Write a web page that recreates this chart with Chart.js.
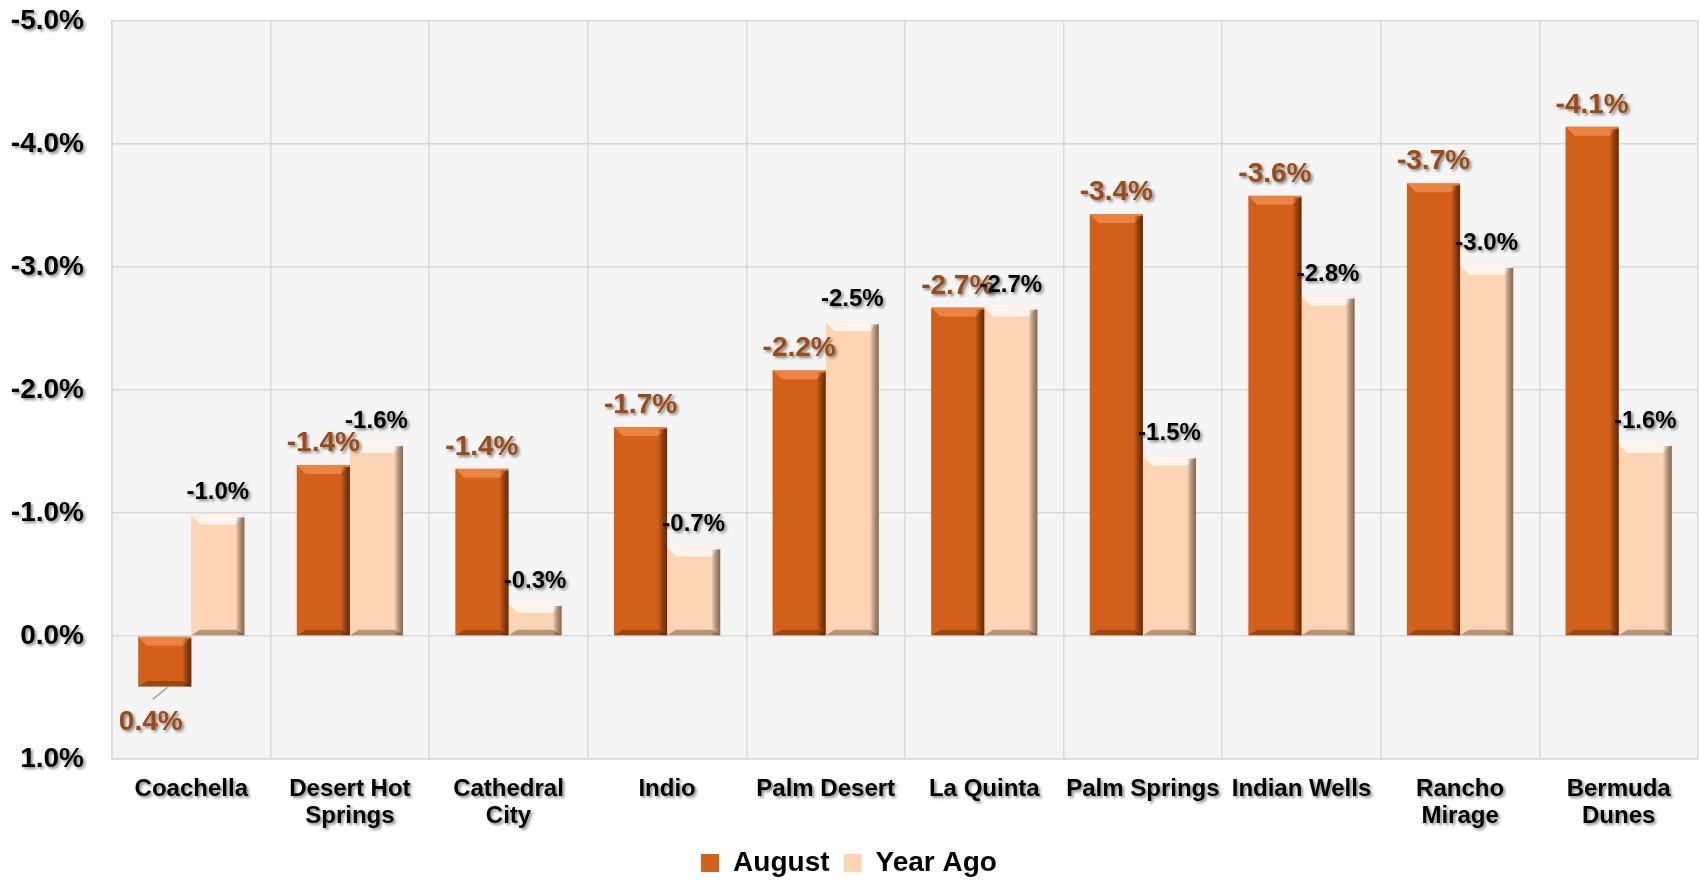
<!DOCTYPE html>
<html>
<head>
<meta charset="utf-8">
<script src="https://cdn.jsdelivr.net/npm/chart.js@4"></script>
<style>
  html, body { margin: 0; padding: 0; background: #fff; }
  #wrap { width: 1701px; height: 882px; }
</style>
</head>
<body>
<div id="wrap"><canvas id="rentChart"></canvas></div>
<script>
const cities = [['Coachella'], ['Desert Hot', 'Springs'], ['Cathedral', 'City'], ['Indio'], ['Palm Desert'],
                ['La Quinta'], ['Palm Springs'], ['Indian Wells'], ['Rancho', 'Mirage'], ['Bermuda', 'Dunes']];
const august = [0.41, -1.39, -1.36, -1.70, -2.16, -2.67, -3.43, -3.58, -3.68, -4.14];
const yearAgo = [-0.98, -1.56, -0.26, -0.72, -2.55, -2.67, -1.46, -2.76, -3.01, -1.56];
const yTicks = { min: -5, max: 1, step: 1 };

const FONT = "'Liberation Sans', Arial, sans-serif";

// light gray plot background
const plotBg = {
  id: 'plotBg',
  beforeDraw(chart) {
    const { ctx, chartArea: a } = chart;
    ctx.save();
    ctx.fillStyle = '#f5f5f5';
    ctx.fillRect(a.left, a.top, a.right - a.left, a.bottom - a.top);
    ctx.restore();
  }
};

// bevelled look on top of the flat bars
const bevel = {
  id: 'bevel',
  afterDatasetsDraw(chart) {
    const ctx = chart.ctx;
    chart.data.datasets.forEach((ds, i) => {
      const meta = chart.getDatasetMeta(i);
      const light = i === 0 ? 'rgba(255,160,100,0.55)' : 'rgba(255,255,255,0.75)';
      const dark = i === 0 ? 'rgba(70,25,0,0.75)' : 'rgba(90,60,40,0.7)';
      meta.data.forEach((bar) => {
        const p = bar.getProps(['x', 'y', 'base', 'width'], true);
        const left = p.x - p.width / 2, right = p.x + p.width / 2;
        const top = Math.min(p.y, p.base), bottom = Math.max(p.y, p.base);
        const h = bottom - top;
        const d = Math.min(9, h / 3);
        ctx.save();
        // top bevel
        ctx.beginPath();
        ctx.moveTo(left, top); ctx.lineTo(right, top);
        ctx.lineTo(right - d, top + d); ctx.lineTo(left + d, top + d);
        ctx.closePath();
        ctx.fillStyle = light;
        ctx.fill();
        // right shade
        const g = ctx.createLinearGradient(right - 9, 0, right, 0);
        g.addColorStop(0, 'rgba(0,0,0,0)');
        g.addColorStop(1, dark);
        ctx.fillStyle = g;
        ctx.fillRect(right - 9, top + 2, 9, h - 2);
        // bottom shade
        ctx.beginPath();
        ctx.moveTo(left, bottom); ctx.lineTo(right, bottom);
        ctx.lineTo(right - d, bottom - d * 0.6); ctx.lineTo(left + d, bottom - d * 0.6);
        ctx.closePath();
        ctx.fillStyle = 'rgba(60,30,10,0.35)';
        ctx.fill();
        ctx.restore();
      });
    });
  }
};

// value labels, then a text shadow for the tick labels drawn afterwards
const valueLabels = {
  id: 'valueLabels',
  afterDatasetsDraw(chart) {
    const ctx = chart.ctx;
    ctx.save();
    ctx.shadowColor = 'rgba(0,0,0,0.45)';
    ctx.shadowOffsetX = 2;
    ctx.shadowOffsetY = 2;
    ctx.shadowBlur = 3;
    ctx.textAlign = 'center';
    ctx.textBaseline = 'alphabetic';
    chart.data.datasets.forEach((ds, i) => {
      const meta = chart.getDatasetMeta(i);
      ctx.font = i === 0 ? `bold 28px ${FONT}` : `bold 24px ${FONT}`;
      ctx.fillStyle = i === 0 ? '#9e4a17' : '#000';
      meta.data.forEach((bar, j) => {
        const v = ds.data[j];
        const txt = v.toFixed(1) + '%';
        if (v < 0) {
          ctx.fillText(txt, bar.x, bar.y - (i === 0 ? 14 : 16));
        } else {
          ctx.save();
          ctx.shadowColor = 'transparent';
          ctx.strokeStyle = '#a6a6a6';
          ctx.lineWidth = 1.5;
          ctx.beginPath();
          ctx.moveTo(bar.x + 4, bar.y);
          ctx.lineTo(bar.x - 12, bar.y + 13);
          ctx.stroke();
          ctx.restore();
          ctx.fillText(txt, bar.x - 14, bar.y + 44);
        }
      });
    });
    ctx.restore();
    ctx.save();
    ctx.shadowColor = 'rgba(0,0,0,0.45)';
    ctx.shadowOffsetX = 2;
    ctx.shadowOffsetY = 2;
    ctx.shadowBlur = 3;
  },
  afterDraw(chart) {
    chart.ctx.restore();
  }
};

const ctx = document.getElementById('rentChart').getContext('2d');
new Chart(ctx, {
  type: 'bar',
  data: {
    labels: cities,
    datasets: [
      { label: 'August', data: august, backgroundColor: '#d2601a', borderWidth: 0,
        categoryPercentage: 0.67, barPercentage: 1.0 },
      { label: 'Year Ago', data: yearAgo, backgroundColor: '#fdd5b4', borderWidth: 0,
        categoryPercentage: 0.67, barPercentage: 1.0 }
    ]
  },
  options: {
    responsive: true,
    maintainAspectRatio: false,
    animation: false,
    layout: { padding: { left: 0, right: 3, top: 21, bottom: -5 } },
    scales: {
      x: {
        grid: { color: '#d9d9d9', lineWidth: 1.5, drawTicks: false, offset: true },
        border: { color: '#d9d9d9', width: 1.5 },
        ticks: {
          z: 1,
          padding: 17,
          color: '#000',
          font: { family: FONT, size: 24, weight: 'bold', lineHeight: 1.12 },
          maxRotation: 0, autoSkip: false
        },
        afterFit: (scale) => { scale.height = 76; }
      },
      y: {
        reverse: true,
        min: yTicks.min,
        max: yTicks.max,
        grid: { color: '#d9d9d9', lineWidth: 1.5, drawTicks: false },
        border: { color: '#d9d9d9', width: 1.5 },
        ticks: {
          z: 1,
          stepSize: yTicks.step,
          padding: 28,
          color: '#000',
          font: { family: FONT, size: 28, weight: 'bold' },
          callback: (v) => v.toFixed(1) + '%'
        },
        afterFit: (scale) => {
          scale.width = 112;
          scale.paddingTop = 0;
          scale.paddingBottom = 0;
        }
      }
    },
    plugins: {
      legend: {
        position: 'bottom',
        labels: {
          color: '#000',
          boxWidth: 18,
          boxHeight: 18,
          padding: 14,
          font: { family: FONT, size: 28, weight: 'bold' }
        }
      },
      tooltip: { enabled: false }
    }
  },
  plugins: [plotBg, bevel, valueLabels]
});
</script>
</body>
</html>
